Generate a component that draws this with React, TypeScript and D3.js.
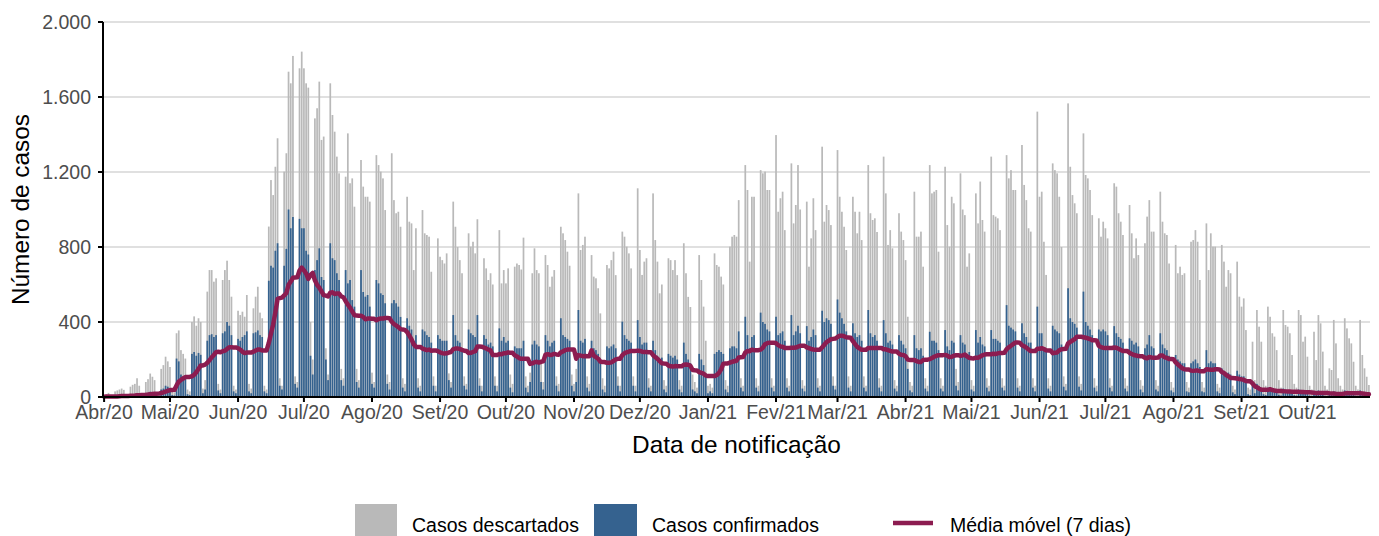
import React from "react";
import * as d3 from "d3";

// Daily data starting 2020-04-01 (one row = Sat..Fri week, first row Wed..Fri)
const startDate = new Date(Date.UTC(2020, 3, 1));

const descartados: number[] = [
  8, 15, 22,
  10, 6, 30, 35, 40, 45, 38,
  15, 10, 55, 65, 70, 100, 60,
  20, 15, 80, 95, 125, 108, 90,
  25, 20, 150, 170, 215, 190, 160,
  30, 25, 340, 355, 250, 230, 205,
  40, 30, 400, 430, 380, 420, 400,
  45, 90, 562, 677, 677, 615, 633,
  70, 40, 624, 677, 727, 624, 535,
  60, 40, 460, 437, 455, 428, 544,
  70, 45, 473, 535, 588, 450, 420,
  60, 40, 909, 1157, 1077, 1228, 1380,
  100, 60, 1202, 1300, 1735, 1673, 1819,
  110, 80, 1753, 1842, 1753, 1673, 1650,
  400, 200, 1486, 1540, 1682, 1371, 1389,
  260, 120, 1673, 1504, 1415, 1282, 1193,
  150, 100, 1175, 1406, 1140, 1166, 1015,
  150, 90, 1264, 1122, 1068, 1068, 1042,
  130, 80, 1290, 1237, 1202, 1166, 997,
  120, 80, 1300, 1050, 980, 988, 908,
  100, 70, 1068, 935, 926, 677, 900,
  100, 60, 997, 873, 864, 855, 668,
  110, 60, 846, 748, 730, 712, 766,
  126, 80, 1042, 908, 800, 730, 660,
  110, 70, 873, 802, 828, 766, 948,
  100, 60, 740, 686, 624, 660, 600,
  110, 60, 890, 606, 677, 606, 686,
  120, 70, 695, 712, 704, 680, 850,
  110, 60, 130, 660, 793, 677, 660,
  200, 80, 757, 704, 588, 642, 677,
  110, 70, 908, 873, 837, 775, 700,
  120, 70, 150, 1086, 784, 811, 855,
  110, 70, 757, 642, 633, 580, 446,
  100, 60, 704, 686, 730, 775, 650,
  110, 60, 882, 855, 802, 766, 686,
  110, 60, 1113, 784, 651, 722, 740,
  100, 60, 1086, 837, 722, 553, 600,
  90, 60, 740, 730, 677, 730, 650,
  90, 60, 820, 660, 534, 480, 120,
  80, 50, 757, 624, 482, 300, 60,
  70, 50, 766, 704, 695, 642, 600,
  90, 60, 802, 855, 864, 855, 1050,
  100, 60, 1237, 1104, 722, 1068, 1068,
  100, 60, 1210, 1193, 1202, 1104, 1104,
  100, 60, 1397, 988, 1060, 1095, 890,
  100, 60, 1246, 926, 1024, 1237, 1000,
  90, 60, 1042, 695, 846, 1060, 890,
  100, 60, 1335, 935, 1024, 997, 917,
  110, 60, 1317, 1068, 988, 908, 784,
  110, 60, 1068, 988, 873, 988, 837,
  110, 60, 1237, 980, 944, 953, 880,
  100, 60, 1282, 1086, 811, 890, 793,
  90, 60, 980, 882, 837, 730, 428,
  80, 60, 1095, 855, 855, 882, 695,
  100, 60, 1237, 1086, 1095, 1104, 775,
  100, 60, 1228, 917, 802, 1068, 1033,
  150, 80, 1193, 1000, 970, 695, 766,
  90, 60, 1086, 926, 1149, 944, 882,
  100, 60, 1282, 970, 962, 953, 890,
  100, 60, 1290, 1166, 1210, 1104, 1104,
  100, 60, 1344, 1131, 1050, 900, 882,
  100, 60, 1522, 1068, 1095, 828, 651,
  100, 60, 1246, 1210, 1193, 1068, 800,
  110, 70, 1566, 1228, 1077, 1033, 980,
  110, 70, 1406, 1184, 1166, 1104, 970,
  100, 60, 953, 855, 935, 900, 846,
  100, 60, 1140, 1122, 980, 935, 864,
  100, 60, 1024, 873, 740, 846, 757,
  90, 60, 820, 962, 1050, 882, 882,
  90, 60, 1095, 935, 873, 864, 712,
  80, 50, 811, 660, 695, 651, 660,
  80, 50, 828, 837, 890, 828, 624,
  80, 50, 926, 677, 873, 802, 802,
  70, 50, 811, 722, 588, 677, 660,
  60, 40, 722, 535, 482, 526, 357,
  50, 40, 295, 90, 464, 375, 295,
  90, 60, 482, 428, 340, 322, 250,
  90, 50, 464, 384, 375, 340, 224,
  70, 50, 464, 437, 295, 322, 215,
  60, 40, 348, 197, 437, 393, 242,
  60, 40, 153, 144, 411, 286, 100,
  60, 40, 420, 366, 313, 286, 188,
  60, 40, 411, 224, 153, 108, 64,
];

const confirmados: number[] = [
  2, 3, 4,
  2, 1, 5, 6, 8, 8, 7,
  3, 2, 10, 12, 14, 16, 12,
  5, 3, 18, 22, 28, 25, 22,
  6, 5, 40, 45, 60, 55, 48,
  10, 8, 205, 190, 120, 110, 100,
  15, 10, 230, 240, 220, 235, 225,
  20, 40, 300, 330, 335, 320, 330,
  35, 20, 340, 350, 400, 380, 330,
  30, 20, 310, 300, 320, 330, 350,
  30, 20, 340, 345, 355, 330, 320,
  30, 20, 620, 700, 690, 780, 820,
  60, 40, 700, 790, 1000, 900, 960,
  70, 50, 950, 900, 900, 780, 760,
  220, 120, 677, 730, 793, 640, 624,
  200, 90, 820, 740, 730, 660, 624,
  90, 60, 677, 606, 624, 517, 482,
  80, 50, 677, 560, 535, 544, 482,
  70, 50, 624, 606, 553, 544, 500,
  70, 40, 500, 517, 500, 482, 427,
  50, 30, 420, 380, 360, 300, 330,
  50, 30, 360, 350, 330, 320, 290,
  60, 30, 330, 310, 300, 300, 300,
  90, 50, 437, 330, 300, 290, 260,
  60, 40, 360, 340, 330, 320, 437,
  60, 30, 330, 310, 280, 290, 270,
  60, 30, 366, 300, 320, 290, 300,
  50, 25, 270, 260, 260, 260, 300,
  50, 25, 80, 280, 300, 280, 270,
  80, 40, 330, 300, 270, 290, 300,
  60, 30, 420, 330, 320, 310, 300,
  60, 30, 80, 464, 300, 290, 310,
  50, 30, 300, 260, 250, 230, 200,
  40, 25, 270, 260, 270, 280, 260,
  60, 30, 402, 330, 310, 300, 290,
  60, 30, 410, 320, 280, 290, 290,
  50, 30, 300, 250, 220, 200, 210,
  40, 25, 230, 220, 210, 220, 200,
  40, 25, 290, 230, 200, 180, 40,
  30, 20, 230, 200, 170, 110, 20,
  30, 20, 230, 240, 250, 240, 230,
  40, 25, 260, 270, 270, 260, 350,
  50, 30, 428, 330, 260, 320, 330,
  50, 30, 450, 400, 390, 360, 350,
  50, 30, 428, 330, 340, 350, 300,
  50, 30, 437, 330, 350, 380, 340,
  45, 30, 378, 300, 320, 360, 330,
  50, 30, 460, 400, 420, 410, 390,
  60, 40, 520, 450, 420, 390, 350,
  50, 30, 393, 340, 320, 330, 300,
  50, 30, 464, 340, 320, 330, 300,
  50, 30, 410, 340, 290, 300, 280,
  45, 30, 330, 300, 280, 260, 150,
  35, 25, 330, 260, 250, 260, 220,
  45, 30, 348, 300, 300, 290, 250,
  45, 30, 357, 270, 250, 300, 290,
  60, 35, 330, 290, 280, 230, 240,
  40, 30, 357, 290, 320, 280, 270,
  50, 30, 357, 310, 310, 300, 290,
  50, 35, 490, 380, 370, 360, 350,
  50, 30, 393, 340, 320, 290, 290,
  50, 30, 482, 340, 340, 260, 240,
  45, 30, 380, 360, 350, 340, 280,
  55, 35, 580, 420, 400, 390, 370,
  55, 35, 562, 400, 380, 360, 330,
  50, 30, 360, 350, 360, 350, 330,
  50, 30, 378, 340, 320, 310, 290,
  45, 30, 313, 300, 280, 290, 270,
  40, 25, 260, 280, 330, 270, 260,
  40, 30, 340, 280, 260, 250, 220,
  35, 25, 224, 200, 190, 180, 180,
  30, 25, 180, 190, 200, 180, 160,
  30, 25, 250, 180, 190, 180, 180,
  30, 20, 153, 140, 120, 130, 120,
  25, 15, 140, 120, 110, 110, 80,
  15, 10, 60, 20, 70, 55, 45,
  15, 10, 50, 45, 40, 35, 30,
  12, 8, 45, 40, 35, 35, 25,
  10, 8, 40, 38, 30, 30, 20,
  8, 6, 30, 20, 35, 32, 20,
  6, 5, 20, 15, 30, 25, 15,
  6, 5, 35, 30, 25, 22, 15,
  6, 5, 35, 20, 15, 10, 8,
];

const monthLabels = [
  "Abr/20", "Mai/20", "Jun/20", "Jul/20", "Ago/20", "Set/20", "Out/20",
  "Nov/20", "Dez/20", "Jan/21", "Fev/21", "Mar/21", "Abr/21", "Mai/21",
  "Jun/21", "Jul/21", "Ago/21", "Set/21", "Out/21",
];
const yTicks = [0, 400, 800, 1200, 1600, 2000];
const legendLabels = ["Casos descartados", "Casos confirmados", "Média móvel (7 dias)"];

const COL_GREY = "#b9b9b9";
const COL_BLUE = "#35628f";
const COL_LINE = "#8c1c50";
const FONT = "'Liberation Sans', Arial, Helvetica, sans-serif";

const ptBR = d3.formatLocale({ decimal: ",", thousands: ".", grouping: [3], currency: ["R$", ""] });
const fmt = ptBR.format(",d");

export default function App() {
  const W = 1379;
  const H = 536;
  const left = 103, right = 1370, top = 22, bottom = 397;

  const dates = descartados.map((_, i) => d3.utcDay.offset(startDate, i));
  const last = dates[dates.length - 1];
  const x = d3
    .scaleUtc()
    .domain([d3.utcHour.offset(startDate, -12), d3.utcHour.offset(last, 12)])
    .range([left, right]);
  const y = d3.scaleLinear().domain([0, 2000]).range([bottom, top]);

  const step = x(dates[1]) - x(dates[0]);
  const bw = step * 0.78;

  const media = confirmados.map((_, i) => {
    const w = confirmados.slice(Math.max(0, i - 6), i + 1);
    return d3.mean(w) as number;
  });

  const line = d3
    .line<number>()
    .x((_, i) => x(dates[i]))
    .y((v) => y(v))
    .curve(d3.curveLinear);

  const monthTicks = d3.utcMonth.range(startDate, d3.utcDay.offset(last, 1)).slice(0, monthLabels.length);

  return (
    <svg
      width={W}
      height={H}
      style={{ position: "absolute", left: 0, top: 0, background: "#fff" }}
      fontFamily={FONT}
    >
      {/* grid */}
      {yTicks.filter((t) => t > 0).map((t) => (
        <line key={"g" + t} x1={left} x2={right} y1={y(t)} y2={y(t)} stroke="#d6d6d6" strokeWidth={1.6} />
      ))}

      {/* bars */}
      <g>
        {descartados.map((v, i) => (
          <rect key={"d" + i} x={x(dates[i]) - bw / 2} y={y(v)} width={bw} height={bottom - y(v)} fill={COL_GREY} />
        ))}
      </g>
      <g>
        {confirmados.map((v, i) => (
          <rect key={"c" + i} x={x(dates[i]) - bw / 2} y={y(v)} width={bw} height={bottom - y(v)} fill={COL_BLUE} />
        ))}
      </g>

      {/* moving average */}
      <path d={line(media) || ""} fill="none" stroke={COL_LINE} strokeWidth={4.5} strokeLinejoin="round" strokeLinecap="round" />

      {/* axes */}
      <line x1={left} x2={left} y1={top} y2={bottom + 1} stroke="#000" strokeWidth={2} />
      <line x1={left - 1} x2={right} y1={bottom} y2={bottom} stroke="#000" strokeWidth={2} />
      {yTicks.map((t) => (
        <g key={"yt" + t}>
          <line x1={left - 5} x2={left} y1={y(t)} y2={y(t)} stroke="#000" strokeWidth={2} />
          <text x={left - 12} y={y(t)} dy="0.34em" textAnchor="end" fontSize={19.5} fill="#4d4d4d">
            {fmt(t)}
          </text>
        </g>
      ))}
      {monthTicks.map((m, i) => (
        <g key={"xt" + i}>
          <line x1={x(m)} x2={x(m)} y1={bottom} y2={bottom + 5} stroke="#000" strokeWidth={2} />
          <text x={x(m)} y={419} textAnchor="middle" fontSize={19.5} fill="#4d4d4d">
            {monthLabels[i]}
          </text>
        </g>
      ))}

      {/* axis titles */}
      <text x={(left + right) / 2} y={453} textAnchor="middle" fontSize={24.4} fill="#000">
        Data de notificação
      </text>
      <text transform={`translate(29, ${(top + bottom) / 2}) rotate(-90)`} textAnchor="middle" fontSize={24.4} fill="#000">
        Número de casos
      </text>

      {/* legend */}
      <rect x={355} y={504} width={42} height={42} fill={COL_GREY} />
      <text x={412} y={532} fontSize={19.5} fill="#000">{legendLabels[0]}</text>
      <rect x={594} y={504} width={43} height={42} fill={COL_BLUE} />
      <text x={652} y={532} fontSize={19.5} fill="#000">{legendLabels[1]}</text>
      <line x1={893} x2={933} y1={523} y2={523} stroke={COL_LINE} strokeWidth={4.5} />
      <text x={950} y={532} fontSize={19.5} fill="#000">{legendLabels[2]}</text>
    </svg>
  );
}
